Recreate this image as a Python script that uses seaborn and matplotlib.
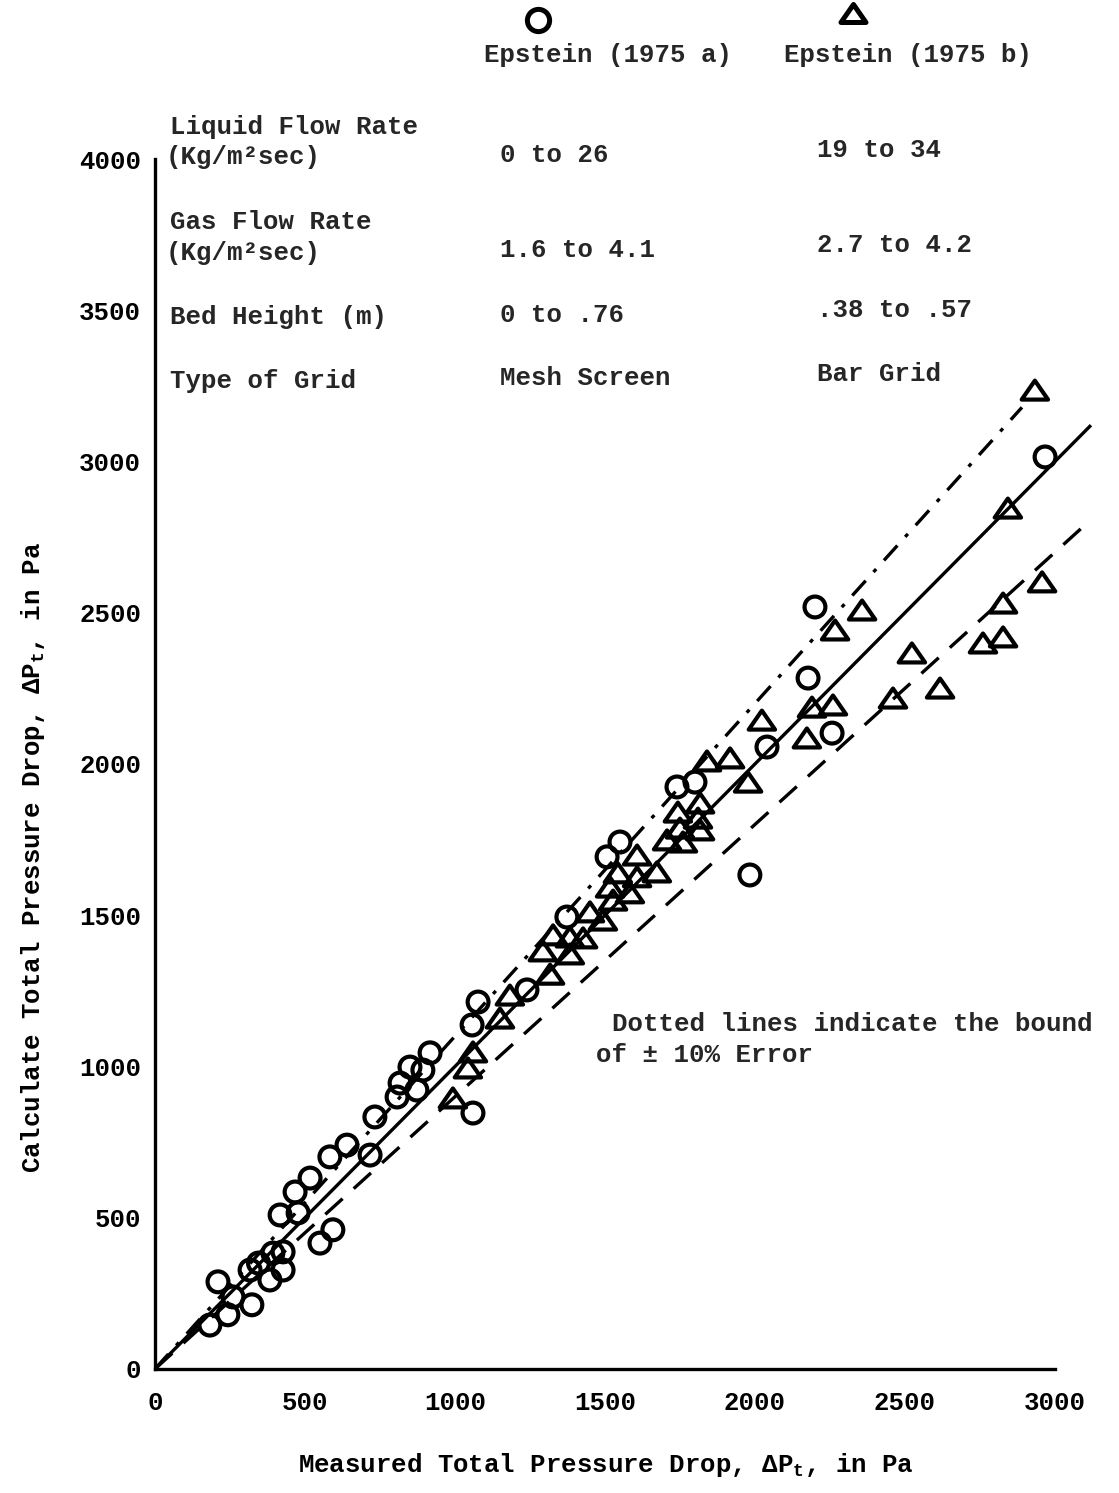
import matplotlib
matplotlib.use("Agg")
import matplotlib.pyplot as plt
from matplotlib.path import Path
import numpy as np
import pandas as pd
import seaborn as sns

# Epstein (1975 a) -- mesh screen grid: measured vs calculated total pressure drop (Pa)
measured_a = [183, 210, 243, 260, 323, 317, 345, 383, 393, 427, 427, 550, 593,
              417, 477, 467, 517, 583, 640, 717, 733, 807, 817, 850, 873, 893,
              917, 1060, 1077, 1057, 1240, 1373, 1507, 1550, 1740, 1800, 1983,
              2040, 2177, 2200, 2257, 2967]
calculated_a = [145, 288, 179, 238, 212, 327, 350, 294, 383, 387, 327, 416, 460,
                509, 516, 585, 631, 701, 740, 707, 833, 899, 945, 998, 922, 988,
                1045, 846, 1213, 1137, 1253, 1494, 1693, 1742, 1924, 1940, 1633,
                2056, 2284, 2519, 2102, 3015]

# Epstein (1975 b) -- bar grid
measured_b = [993, 1043, 1060, 1150, 1183, 1293, 1317, 1327, 1383, 1427, 1383,
              1450, 1493, 1517, 1527, 1543, 1583, 1607, 1607, 1673, 1707, 1760,
              1750, 1817, 1810, 1743, 1817, 1840, 1917, 1977, 2023, 2173, 2190,
              2260, 2267, 2357, 2460, 2523, 2617, 2760, 2827, 2827, 2843, 2957,
              2933]
calculated_b = [896, 995, 1048, 1160, 1236, 1382, 1305, 1435, 1428, 1425, 1372,
                1511, 1484, 1593, 1550, 1640, 1574, 1627, 1699, 1643, 1749, 1742,
                1788, 1782, 1821, 1841, 1871, 2010, 2020, 1940, 2145, 2086, 2188,
                2195, 2443, 2509, 2218, 2367, 2251, 2400, 2420, 2532, 2846, 2602,
                3236]

# Perfect-agreement line and the +/-10 % error bounds
perfect_x = [0, 3120]
upper_x = [0, 2890]
lower_x = [0, 3120]
error_bound = 0.10

x_ticks = [0, 500, 1000, 1500, 2000, 2500, 3000]
y_ticks = [0, 500, 1000, 1500, 2000, 2500, 3000, 3500, 4000]

sns.set_theme(style="white")
plt.rcParams["font.family"] = ["Liberation Mono", "DejaVu Sans Mono"]
plt.rcParams["font.weight"] = "bold"
plt.rcParams["mathtext.fontset"] = "custom"
plt.rcParams["mathtext.rm"] = "Liberation Mono:bold"
plt.rcParams["mathtext.it"] = "Liberation Mono:bold"
plt.rcParams["mathtext.bf"] = "Liberation Mono:bold"

FS = 18.5
INK = "#000000"

fig = plt.figure(figsize=(11.19, 14.93), dpi=100)
ax = fig.add_axes([0.1385, 0.0831, 0.8579, 0.8104])

df_a = pd.DataFrame({"measured": measured_a, "calculated": calculated_a})
df_b = pd.DataFrame({"measured": measured_b, "calculated": calculated_b})

tri = Path([(0, 0.72), (-1, -0.72), (1, -0.72), (0, 0.72)], closed=True)

sns.scatterplot(data=df_a, x="measured", y="calculated", ax=ax, marker="o",
                s=225, facecolor="none", edgecolor=INK, linewidth=3.0,
                clip_on=False, zorder=3)
sns.scatterplot(data=df_b, x="measured", y="calculated", ax=ax, marker=tri,
                s=360, facecolor="none", edgecolor=INK, linewidth=3.0,
                clip_on=False, zorder=3)

px = np.array(perfect_x, dtype=float)
ux = np.array(upper_x, dtype=float)
lx = np.array(lower_x, dtype=float)
ax.plot(px, px, color=INK, lw=2.4, solid_capstyle="butt", zorder=2)
ax.plot(ux, ux * (1 + error_bound), color=INK, lw=2.4,
        linestyle=(0, (6, 3.5, 1.2, 3.5)), zorder=2)
ax.plot(lx, lx * (1 - error_bound), color=INK, lw=2.4,
        linestyle=(0, (7, 4.5)), zorder=2)

ax.set_xlim(0, 3200)
ax.set_ylim(0, 4000)
ax.set_xticks(x_ticks)
ax.set_yticks(y_ticks)
ax.set_xticklabels([str(v) for v in x_ticks], fontsize=FS, fontweight="bold")
ax.set_yticklabels([str(v) for v in y_ticks], fontsize=FS, fontweight="bold")
ax.tick_params(axis="x", direction="in", length=11, width=2.2, pad=16, colors=INK)
ax.tick_params(axis="y", direction="in", length=10, width=2.2, pad=10, colors=INK)

for side in ("top", "right"):
    ax.spines[side].set_visible(False)
for side in ("left", "bottom"):
    ax.spines[side].set_color(INK)
    ax.spines[side].set_linewidth(2.4)
ax.spines["bottom"].set_bounds(0, 3000)
ax.spines["left"].set_bounds(0, 4000)

ax.set_xlabel("Measured Total Pressure Drop, ΔP$_\\mathrm{t}$, in Pa",
              fontsize=FS, fontweight="bold", color=INK)
ax.set_ylabel("Calculate Total Pressure Drop, ΔP$_\\mathrm{t}$, in Pa",
              fontsize=FS, fontweight="bold", color=INK)
ax.xaxis.set_label_coords(0.47, -0.068)
ax.yaxis.set_label_coords(-0.112, 0.423)

# Series key above the table
ax.plot([1277], [4460], marker="o", ms=16, mfc="none", mec=INK, mew=3.6,
        clip_on=False, ls="none")
ax.plot([2327], [4484], marker=tri, ms=18, mfc="none", mec=INK, mew=3.6,
        clip_on=False, ls="none")
ax.text(1510, 4344, "Epstein (1975 a)", ha="center", va="center",
        fontsize=FS, fontweight="bold", clip_on=False)
ax.text(2510, 4344, "Epstein (1975 b)", ha="center", va="center",
        fontsize=FS, fontweight="bold", clip_on=False)

# Test-condition table
rows = [
    (50, 4106, "Liquid Flow Rate"),
    (35, 4007, "(Kg/m²sec)"),
    (50, 3792, "Gas Flow Rate"),
    (35, 3689, "(Kg/m²sec)"),
    (50, 3478, "Bed Height (m)"),
    (50, 3266, "Type of Grid"),
    (1150, 4013, "0 to 26"),
    (1150, 3699, "1.6 to 4.1"),
    (1150, 3484, "0 to .76"),
    (1150, 3276, "Mesh Screen"),
    (2207, 4030, "19 to 34"),
    (2207, 3716, "2.7 to 4.2"),
    (2207, 3501, ".38 to .57"),
    (2207, 3289, "Bar Grid"),
]
for x, y, s in rows:
    ax.text(x, y, s, ha="left", va="center", fontsize=FS, fontweight="bold",
            clip_on=False)

ax.text(1523, 1140, "Dotted lines indicate the bound", ha="left", va="center",
        fontsize=FS, fontweight="bold", clip_on=False)
ax.text(1470, 1038, "of ± 10% Error", ha="left", va="center",
        fontsize=FS, fontweight="bold", clip_on=False)

fig.savefig("out.png", dpi=100)
